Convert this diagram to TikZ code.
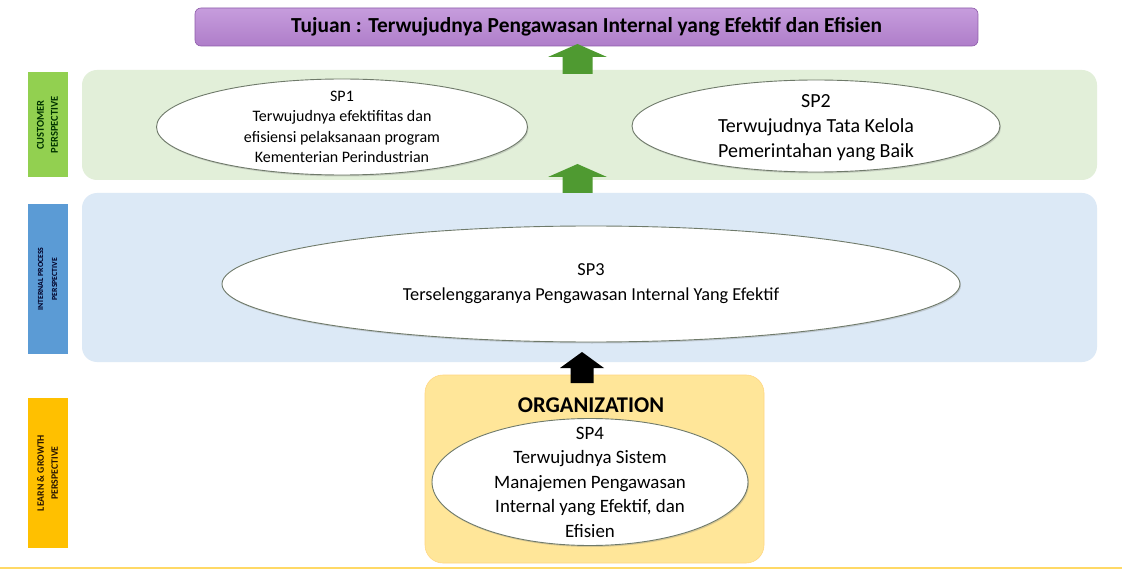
\documentclass[tikz,border=0pt]{standalone}
\usepackage{fontspec}
\setmainfont{Carlito}
\usetikzlibrary{shapes.geometric,shadows}
\definecolor{titlepurple}{HTML}{B884D4}
\definecolor{titleedge}{HTML}{8E5CAA}
\definecolor{custband}{HTML}{E2EFD9}
\definecolor{procband}{HTML}{DCE9F6}
\definecolor{orgbox}{HTML}{FFE699}
\definecolor{arrowgreen}{HTML}{4F9A31}
\definecolor{labgreen}{HTML}{92D050}
\definecolor{labblue}{HTML}{5B9BD5}
\definecolor{labgold}{HTML}{FFC000}
\definecolor{ellipseedge}{HTML}{6F7A6A}
\definecolor{lineyellow}{HTML}{FFD966}
\begin{document}
\begin{tikzpicture}[x=1pt,y=-1pt,
  band/.style={rounded corners=15pt, draw=none, inner sep=0pt},
  oval/.style={ellipse, draw=ellipseedge, line width=0.9pt, fill=white, inner sep=0pt,
     drop shadow={shadow xshift=1pt, shadow yshift=-1.5pt, opacity=0.3}},
  ovaltext/.style={align=center, inner sep=0pt},
  sidelabel/.style={rotate=90, minimum width=#1, minimum height=40pt, inner sep=0pt, align=center},
  blockarrow/.style={fill=#1, draw=none}
]
\useasboundingbox (0,0) rectangle (1122,572);
\fill[white] (0,0) rectangle (1122,572);

% bands
\node[band, fill=custband, minimum width=1015pt, minimum height=110pt] (cust) at (589.5,125) {};
\node[band, fill=procband, minimum width=1015pt, minimum height=169pt] (proc) at (589.5,277.5) {};
\node[rounded corners=18pt, fill=orgbox, draw=orgbox!85!orange, line width=0.6pt, minimum width=339pt, minimum height=188pt, inner sep=0pt] (org) at (594.5,469) {};

% title
\node[rounded corners=6pt, top color=titlepurple!80!white, bottom color=titlepurple!95!black, draw=titleedge, line width=0.6pt,
      minimum width=783pt, minimum height=38pt, inner sep=0pt,
      font=\fontsize{21.4}{24}\selectfont\bfseries] (title) at (586.5,27)
      {Tujuan : Terwujudnya Pengawasan Internal yang Efektif dan Efisien};

% side labels
\node[sidelabel=105pt, fill=labgreen, text=black!80!green, font=\fontsize{10.5}{14}\selectfont\bfseries] (lcust) at (47.5,125) {CUSTOMER\\PERSPECTIVE};
\node[sidelabel=150pt, fill=labblue, text=black!85!blue, font=\fontsize{7.8}{14}\selectfont\bfseries] (lproc) at (47.5,279) {INTERNAL PROCESS\\PERSPECTIVE};
\node[sidelabel=150pt, fill=labgold, text=black!85!orange, font=\fontsize{9.8}{14}\selectfont\bfseries] (lorg) at (47.5,473) {LEARN \& GROWTH\\PERSPECTIVE};

% ellipses
\node[oval, minimum width=371pt, minimum height=96pt] (sp1) at (342,127) {};
\node[ovaltext, font=\fontsize{16}{20.5}\selectfont] (sp1t) at (sp1.center)
  {SP1\\Terwujudnya efektifitas dan\\efisiensi pelaksanaan program\\Kementerian Perindustrian};
\node[oval, minimum width=368pt, minimum height=92pt] (sp2) at (816,126) {};
\node[ovaltext, font=\fontsize{20}{25}\selectfont] (sp2t) at ([yshift=-2pt]sp2.center)
  {SP2\\Terwujudnya Tata Kelola\\Pemerintahan yang Baik};
\node[oval, minimum width=738pt, minimum height=116pt] (sp3) at (591,284) {};
\node[ovaltext, font=\fontsize{18.3}{25}\selectfont] (sp3t) at (sp3.center)
  {SP3\\Terselenggaranya Pengawasan Internal Yang Efektif};
\node[font=\fontsize{22.5}{24}\selectfont\bfseries, inner sep=0pt] (orgtitle) at (591,405) {ORGANIZATION};
\node[oval, minimum width=316pt, minimum height=127pt] (sp4) at (590,482) {};
\node[ovaltext, font=\fontsize{18.9}{24.5}\selectfont] (sp4t) at (sp4.center)
  {SP4\\Terwujudnya Sistem\\Manajemen Pengawasan\\Internal yang Efektif, dan\\Efisien};

% block arrows
\coordinate (a1) at (577.5,74);
\fill[blockarrow=arrowgreen] (a1) ++(-15,0) -- ++(0,-17) -- ++(-14.5,0) -- ++(29.5,-13) -- ++(29.5,13) -- ++(-14.5,0) -- ++(0,17) -- cycle;
\coordinate (a2) at (577.5,193);
\fill[blockarrow=arrowgreen] (a2) ++(-15,0) -- ++(0,-16) -- ++(-14.5,0) -- ++(29.5,-13) -- ++(29.5,13) -- ++(-14.5,0) -- ++(0,16) -- cycle;
\coordinate (a3) at (582,383);
\fill[blockarrow=black] (a3) ++(-11.5,0) -- ++(0,-15) -- ++(-10.5,0) -- ++(22,-16) -- ++(22,16) -- ++(-10.5,0) -- ++(0,15) -- cycle;

% bottom line
\draw[lineyellow, line width=2pt] (0,568) -- (1122,568);
\end{tikzpicture}
\end{document}
